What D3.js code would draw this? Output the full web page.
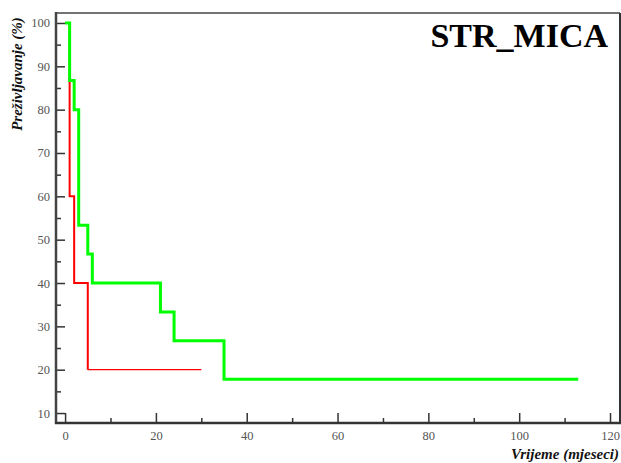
<!DOCTYPE html>
<meta charset="utf-8">
<style>
body { margin: 0; background: #fff; }
.tick text { font-family: "Liberation Serif", serif; font-size: 12.5px; fill: #555; }
.tick line { stroke: #333; stroke-width: 1.5px; }
.domain { display: none; }
</style>
<svg width="621" height="463"></svg>
<script src="https://cdn.jsdelivr.net/npm/d3@7"></script>
<script>

// survival curves (months, %)
var greenTime = [0, 1, 2, 3, 5, 6, 21, 24, 35, 113];
var greenSurv = [100, 86.7, 80, 53.3, 46.7, 40, 33.3, 26.7, 17.8, 17.8];
var redTime = [0, 1, 2, 5, 30];
var redSurv = [100, 60, 40, 20, 20];

var xTicks = [0, 20, 40, 60, 80, 100, 120];
var xMinor = [10, 30, 50, 70, 90, 110];
var yTicks = [10, 20, 30, 40, 50, 60, 70, 80, 90, 100];
var yMinor = [15, 25, 35, 45, 55, 65, 75, 85, 95];

var title = "STR_MICA";
var xLabel = "Vrijeme (mjeseci)";
var yLabel = "Preživljavanje (%)";

var svg = d3.select("svg");
var plotL = 56, plotR = 620, plotT = 13, plotB = 423;

var x = d3.scaleLinear().domain([-2, 122.2]).range([plotL, plotR]);
var y = d3.scaleLinear().domain([7.7, 102.3]).range([plotB, plotT]);

// axes, ticks point inward
svg.append("g").attr("transform", "translate(" + plotL + ",0)")
  .call(d3.axisLeft(y).tickValues(yTicks).tickSize(-9).tickPadding(6));
svg.append("g").attr("transform", "translate(" + plotL + ",0)")
  .call(d3.axisLeft(y).tickValues(yMinor).tickSize(-5).tickFormat(""));
svg.append("g").attr("transform", "translate(0," + plotB + ")")
  .call(d3.axisBottom(x).tickValues(xTicks).tickSize(-10).tickPadding(8));
svg.append("g").attr("transform", "translate(0," + plotB + ")")
  .call(d3.axisBottom(x).tickValues(xMinor).tickSize(-5).tickFormat(""));

// frame
svg.append("line").attr("x1", plotL).attr("x2", plotR).attr("y1", plotT).attr("y2", plotT)
  .attr("stroke", "#444").attr("stroke-width", 1.5);
svg.append("line").attr("x1", plotR).attr("x2", plotR).attr("y1", plotT).attr("y2", plotB)
  .attr("stroke", "#333").attr("stroke-width", 2);
svg.append("line").attr("x1", plotL).attr("x2", plotL).attr("y1", plotT - 1).attr("y2", plotB + 1)
  .attr("stroke", "#444").attr("stroke-width", 2.5);
svg.append("line").attr("x1", plotL - 1).attr("x2", plotR + 1).attr("y1", plotB).attr("y2", plotB)
  .attr("stroke", "#333").attr("stroke-width", 2.5);

var line = d3.line()
  .x(function(d) { return x(d[0]); })
  .y(function(d) { return y(d[1]); })
  .curve(d3.curveStepAfter);

var red = d3.zip(redTime, redSurv);
var green = d3.zip(greenTime, greenSurv);

// red: thicker steps, thin tail
svg.append("path").datum(red.slice(0, red.length - 1))
  .attr("fill", "none").attr("stroke", "#ff0000").attr("stroke-width", 2)
  .attr("d", line);
svg.append("path").datum(red.slice(red.length - 2))
  .attr("fill", "none").attr("stroke", "#ff0000").attr("stroke-width", 1.3)
  .attr("d", line);

svg.append("path").datum(green)
  .attr("fill", "none").attr("stroke", "#00ff00").attr("stroke-width", 3)
  .attr("d", line);

// texts
svg.append("text").attr("x", 608).attr("y", 47).attr("text-anchor", "end")
  .style("font-family", "Liberation Serif").style("font-weight", "bold")
  .style("font-size", "34px").attr("fill", "#000").text(title);

svg.append("text").attr("transform", "translate(22,74) rotate(-90)")
  .attr("text-anchor", "middle")
  .style("font-family", "Liberation Serif").style("font-weight", "bold").style("font-style", "italic")
  .style("font-size", "15px").attr("fill", "#111").text(yLabel);

svg.append("text").attr("x", 619).attr("y", 459).attr("text-anchor", "end")
  .style("font-family", "Liberation Serif").style("font-weight", "bold").style("font-style", "italic")
  .style("font-size", "15px").attr("fill", "#111").text(xLabel);

</script>
